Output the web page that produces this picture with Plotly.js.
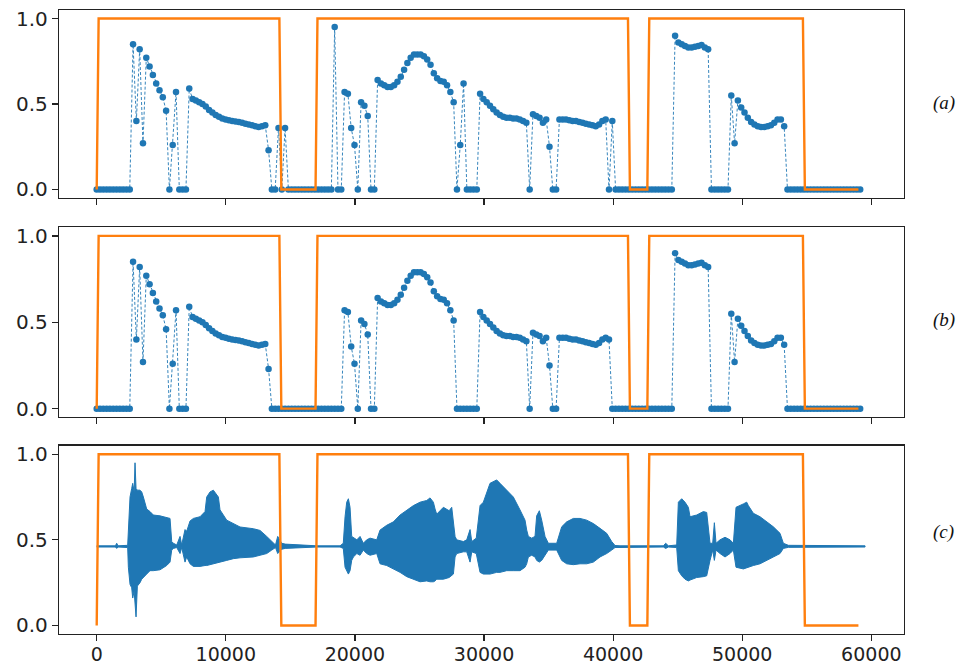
<!DOCTYPE html>
<html>
<head>
<meta charset="utf-8">
<script src="https://cdn.plot.ly/plotly-3.0.1.min.js"></script>
<style>
  html, body { margin: 0; padding: 0; background: #fff; }
  #chart { width: 960px; height: 668px; }
</style>
</head>
<body>
<div id="chart"></div>
<script>
// Frame hop (samples) of the per-frame scores in panels (a) and (b)
const frameHop = 256;

// Panel (a): per-frame score, one value per frame
const scoreA = [
  0,0,0,0,0,0,0,0,0,0,
  0,0.85,0.40,0.82,0.27,0.77,0.72,0.67,0.62,0.58,
  0.54,0.46,0,0.26,0.57,0,0,0,0.59,0.53,
  0.52,0.51,0.50,0.485,0.465,0.45,0.435,0.425,0.415,0.41,
  0.405,0.40,0.398,0.395,0.39,0.385,0.38,0.375,0.37,0.365,
  0.37,0.375,0.23,0,0,0.36,0,0.36,0,0,
  0,0,0,0,0,0,0,0,0,0,
  0,0,0.95,0,0,0.57,0.56,0.36,0.26,0,
  0.51,0.49,0.43,0,0,0.64,0.62,0.61,0.60,0.60,
  0.61,0.63,0.66,0.70,0.74,0.77,0.79,0.79,0.79,0.78,
  0.76,0.73,0.68,0.65,0.635,0.63,0.61,0.57,0.51,0,
  0.26,0.62,0,0,0,0,0.56,0.53,0.51,0.49,
  0.47,0.45,0.435,0.425,0.42,0.42,0.415,0.415,0.41,0.40,
  0.39,0,0.44,0.43,0.42,0.39,0.41,0.25,0,0,
  0.41,0.41,0.41,0.405,0.40,0.40,0.395,0.39,0.385,0.38,
  0.375,0.37,0.38,0.40,0.41,0,0.40,0,0,0,
  0,0,0,0,0,0,0,0,0,0,
  0,0,0,0,0,0.90,0.86,0.85,0.84,0.83,
  0.83,0.835,0.84,0.845,0.83,0.82,0,0,0,0,
  0,0,0.55,0.27,0.52,0.48,0.45,0.42,0.395,0.38,
  0.37,0.365,0.365,0.37,0.375,0.39,0.41,0.41,0.37,0,
  0,0,0,0,0,0,0,0,0,0,
  0,0,0,0,0,0,0,0,0,0,
  0,0
];

// Panel (b): per-frame score, one value per frame
const scoreB = [
  0,0,0,0,0,0,0,0,0,0,
  0,0.85,0.40,0.82,0.27,0.77,0.72,0.67,0.62,0.58,
  0.54,0.46,0,0.26,0.57,0,0,0,0.59,0.53,
  0.52,0.51,0.50,0.485,0.465,0.45,0.435,0.425,0.415,0.41,
  0.405,0.40,0.398,0.395,0.39,0.385,0.38,0.375,0.37,0.365,
  0.37,0.375,0.23,0,0,0,0,0,0,0,
  0,0,0,0,0,0,0,0,0,0,
  0,0,0,0,0,0.57,0.56,0.36,0.26,0,
  0.51,0.49,0.43,0,0,0.64,0.62,0.61,0.60,0.60,
  0.61,0.63,0.66,0.70,0.74,0.77,0.79,0.79,0.79,0.78,
  0.76,0.73,0.68,0.65,0.635,0.63,0.61,0.57,0.51,0,
  0,0,0,0,0,0,0.56,0.53,0.51,0.49,
  0.47,0.45,0.435,0.425,0.42,0.42,0.415,0.415,0.41,0.40,
  0.39,0,0.44,0.43,0.42,0.39,0.41,0.25,0,0,
  0.41,0.41,0.41,0.405,0.40,0.40,0.395,0.39,0.385,0.38,
  0.375,0.37,0.38,0.40,0.41,0.40,0,0,0,0,
  0,0,0,0,0,0,0,0,0,0,
  0,0,0,0,0,0.90,0.86,0.85,0.84,0.83,
  0.83,0.835,0.84,0.845,0.83,0.82,0,0,0,0,
  0,0,0.55,0.27,0.52,0.48,0.45,0.42,0.395,0.38,
  0.37,0.365,0.365,0.37,0.375,0.39,0.41,0.41,0.37,0,
  0,0,0,0,0,0,0,0,0,0,
  0,0,0,0,0,0,0,0,0,0,
  0,0
];

// Reference on/off segmentation (sample index, state)
const gateX = [0, 150, 14150, 14300, 16950, 17100, 41150, 41300, 42650, 42800, 54700, 54850, 59000];
const gateY = [0, 1, 1, 0, 0, 1, 1, 0, 0, 1, 1, 0, 0];

// Panel (c): waveform envelope (sample index, upper and lower excursion)
const waveX = [
  0,1450,1550,1650,2400,2453,2582,2711,2789,2900,2969,3047,3150,3357,3486,3615,3873,4131,4389,4906,
  5422,5680,5810,5939,6200,6455,6584,6842,6971,7230,7488,8004,8392,8521,8779,9037,9424,9553,10070,10586,
  11103,12135,12652,13168,13556,13685,13850,14020,14150,14330,14600,15750,17040,18850,19100,19236,19365,19494,19623,19752,
  19881,20150,20398,20650,20914,21172,21689,21947,22463,22980,23496,24013,24529,25045,25562,25820,26078,26207,26336,26853,
  27300,27498,27627,27756,27886,28400,28660,28918,29050,29400,29693,29948,30465,30981,31239,31756,32272,32788,33176,33305,
  33434,33692,33950,34079,34286,34467,34725,34983,35629,36016,36403,36920,37436,37952,38469,38985,39502,39889,40147,40534,
  43891,44072,44278,44924,45053,45311,45569,45828,45957,46473,46989,47248,47377,47506,47712,47841,47970,48280,48668,49055,
  49313,49519,50088,50346,50475,50862,51379,51895,52412,52928,53186,53574,59512
];
const waveHi = [
  0.465,0.465,0.48,0.465,0.468,0.57,0.75,0.80,0.83,0.78,0.95,0.80,0.79,0.79,0.78,0.75,0.68,0.665,0.645,0.64,
  0.63,0.625,0.49,0.48,0.47,0.52,0.47,0.56,0.55,0.61,0.625,0.635,0.665,0.75,0.78,0.79,0.75,0.675,0.615,0.595,
  0.575,0.565,0.555,0.52,0.49,0.48,0.47,0.52,0.50,0.48,0.475,0.47,0.465,0.465,0.48,0.635,0.72,0.74,0.69,0.52,
  0.515,0.50,0.52,0.48,0.50,0.51,0.50,0.557,0.585,0.605,0.645,0.675,0.70,0.72,0.73,0.745,0.72,0.68,0.65,0.69,
  0.67,0.69,0.62,0.52,0.50,0.49,0.50,0.56,0.49,0.51,0.70,0.72,0.83,0.85,0.83,0.79,0.75,0.675,0.615,0.557,
  0.52,0.51,0.52,0.64,0.67,0.615,0.52,0.48,0.48,0.576,0.605,0.625,0.625,0.615,0.595,0.567,0.538,0.49,0.467,0.465,
  0.465,0.48,0.465,0.47,0.72,0.74,0.72,0.69,0.635,0.645,0.665,0.66,0.557,0.48,0.48,0.60,0.48,0.50,0.515,0.50,
  0.48,0.69,0.71,0.72,0.70,0.655,0.635,0.605,0.576,0.538,0.48,0.468,0.465
];
const waveLo = [
  0.458,0.458,0.45,0.458,0.455,0.34,0.24,0.22,0.16,0.20,0.15,0.05,0.23,0.25,0.27,0.28,0.30,0.32,0.32,0.325,
  0.35,0.37,0.44,0.45,0.455,0.42,0.455,0.37,0.40,0.36,0.345,0.345,0.35,0.35,0.355,0.36,0.365,0.37,0.38,0.39,
  0.395,0.40,0.41,0.42,0.44,0.445,0.455,0.42,0.43,0.445,0.45,0.455,0.458,0.458,0.45,0.34,0.32,0.30,0.32,0.38,
  0.40,0.42,0.41,0.44,0.42,0.41,0.42,0.36,0.35,0.33,0.31,0.285,0.27,0.255,0.26,0.255,0.255,0.26,0.27,0.27,
  0.28,0.29,0.30,0.40,0.42,0.43,0.43,0.37,0.43,0.42,0.31,0.30,0.30,0.31,0.31,0.32,0.32,0.32,0.34,0.36,
  0.40,0.41,0.40,0.38,0.37,0.38,0.41,0.44,0.44,0.38,0.36,0.355,0.36,0.36,0.37,0.40,0.42,0.44,0.455,0.458,
  0.458,0.45,0.458,0.455,0.32,0.29,0.27,0.26,0.265,0.28,0.285,0.29,0.33,0.38,0.44,0.38,0.44,0.42,0.40,0.42,
  0.44,0.34,0.33,0.34,0.34,0.35,0.36,0.38,0.40,0.42,0.45,0.456,0.458
];

// Axis ticks
const xTickVals = [0, 10000, 20000, 30000, 40000, 50000, 60000];
const xTickText = ['0', '10000', '20000', '30000', '40000', '50000', '60000'];
const yTickVals = [0, 0.5, 1.0];
const yTickText = ['0.0', '0.5', '1.0'];
const panelLabels = ['(a)', '(b)', '(c)'];

const BLUE = '#1f77b4';
const ORANGE = '#ff7f0e';
const INK = '#222222';

function scoreTrace(vals, xa, ya) {
  return {
    type: 'scatter', mode: 'lines+markers',
    x0: 0, dx: frameHop, y: vals,
    xaxis: xa, yaxis: ya,
    line: { color: BLUE, width: 0.9, dash: '3px,2px' },
    marker: { color: BLUE, size: 6.5 },
    hoverinfo: 'skip', showlegend: false
  };
}
function gateTrace(xa, ya) {
  return {
    type: 'scatter', mode: 'lines',
    x: gateX, y: gateY, xaxis: xa, yaxis: ya,
    line: { color: ORANGE, width: 2.4 },
    hoverinfo: 'skip', showlegend: false
  };
}

// Closed outline of the waveform: upper edge forward, lower edge back
const waveOutlineX = waveX.concat(waveX.slice().reverse());
const waveOutlineY = waveHi.concat(waveLo.slice().reverse());

const traces = [
  scoreTrace(scoreA, 'x', 'y'),
  gateTrace('x', 'y'),
  scoreTrace(scoreB, 'x2', 'y2'),
  gateTrace('x2', 'y2'),
  {
    type: 'scatter', mode: 'lines',
    x: waveOutlineX, y: waveOutlineY, xaxis: 'x3', yaxis: 'y3',
    fill: 'toself', fillcolor: BLUE,
    line: { color: BLUE, width: 1 },
    hoverinfo: 'skip', showlegend: false
  },
  gateTrace('x3', 'y3')
];

const tickFont = { family: 'DejaVu Sans, sans-serif', size: 20, color: INK };

function xAxis(anchor, labels) {
  return {
    anchor: anchor, domain: [0, 1],
    range: [-2920, 62530],
    tickvals: xTickVals, ticktext: xTickText,
    showticklabels: labels,
    ticks: 'outside', ticklen: 6, tickwidth: 1.2, tickcolor: INK,
    ticklabelstandoff: -3,
    showline: true, linecolor: INK, linewidth: 1.2, mirror: true,
    showgrid: false, zeroline: false,
    tickfont: { family: tickFont.family, size: 19, color: INK }
  };
}
function yAxis(anchor, domain) {
  return {
    anchor: anchor, domain: domain,
    range: [-0.05, 1.05],
    tickvals: yTickVals, ticktext: yTickText,
    ticks: 'outside', ticklen: 6, tickwidth: 1.2, tickcolor: INK,
    showline: true, linecolor: INK, linewidth: 1.2, mirror: true,
    showgrid: false, zeroline: false,
    tickfont: tickFont
  };
}

const labelYs = [0.851, 0.503, 0.163];
const annotations = panelLabels.map((t, i) => ({
  text: '<i>' + t + '</i>',
  xref: 'paper', yref: 'paper',
  x: 1.047, y: labelYs[i],
  xanchor: 'center', yanchor: 'middle',
  showarrow: false,
  font: { family: 'Liberation Serif, serif', size: 19, color: '#111' }
}));

const layout = {
  width: 960, height: 668,
  margin: { l: 59, r: 56, t: 10, b: 34 },
  paper_bgcolor: '#ffffff', plot_bgcolor: '#ffffff',
  showlegend: false,
  xaxis: xAxis('y', false),
  yaxis: yAxis('x', [0.6987, 1.0]),
  xaxis2: xAxis('y2', false),
  yaxis2: yAxis('x2', [0.3473, 0.6518]),
  xaxis3: xAxis('y3', true),
  yaxis3: yAxis('x3', [0.0, 0.3018]),
  annotations: annotations
};

Plotly.newPlot('chart', traces, layout, { staticPlot: true, displayModeBar: false });
</script>
</body>
</html>
